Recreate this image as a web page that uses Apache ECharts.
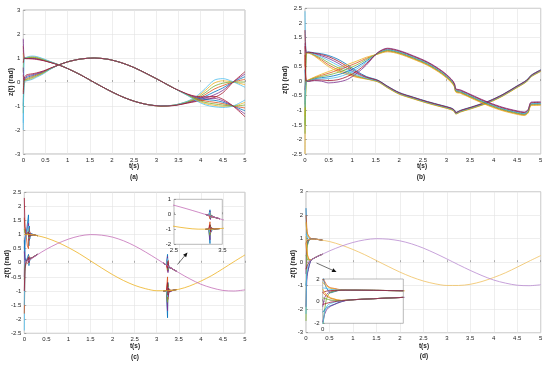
<!DOCTYPE html>
<html><head><meta charset="utf-8">
<script src="https://cdn.jsdelivr.net/npm/echarts@6/dist/echarts.min.js"></script>
<style>html,body{margin:0;padding:0;background:#fff}#c{width:550px;height:367px}</style>
</head><body><div id="c"></div>
<script>
// ---------- Panel (a) ----------
const tA = [0, 0.02, 0.06, 0.12, 0.2, 0.3, 0.45, 0.6, 0.8, 1.0, 1.3, 1.6, 1.9, 2.2, 2.5, 2.8, 3.1, 3.4, 3.7, 3.9, 4.1, 4.3, 4.5, 4.73, 5.0];
const aCos = [
  [1.0, 1.0, 0.99, 0.99, 0.99, 0.97, 0.91, 0.83, 0.71, 0.56, 0.29, -0.02, -0.32, -0.59, -0.80, -0.94, -1.0, -0.97, -0.85, -0.75, -0.60, -0.42, -0.25, 0.0, 0.22],
  [1.5, 1.0, 1.0, 1.0, 1.01, 0.99, 0.92, 0.83, 0.71, 0.56, 0.29, -0.02, -0.32, -0.59, -0.80, -0.94, -1.0, -0.97, -0.84, -0.72, -0.53, -0.30, -0.15, 0.0, 0.11],
  [1.2, 1.0, 1.01, 1.04, 1.05, 1.03, 0.95, 0.85, 0.72, 0.56, 0.29, -0.02, -0.32, -0.59, -0.80, -0.94, -1.0, -0.96, -0.81, -0.64, -0.36, -0.05, 0.05, 0.0, -0.11],
  [1.8, 1.0, 0.98, 0.98, 0.98, 0.96, 0.90, 0.82, 0.71, 0.56, 0.29, -0.02, -0.32, -0.59, -0.80, -0.94, -1.0, -0.98, -0.87, -0.78, -0.67, -0.54, -0.35, 0.0, 0.33],
  [0.4, 1.0, 1.0, 1.02, 1.03, 1.01, 0.93, 0.84, 0.72, 0.56, 0.29, -0.02, -0.32, -0.59, -0.80, -0.94, -1.0, -0.97, -0.83, -0.68, -0.45, -0.18, -0.05, 0.0, 0.0],
  [-2.0, 0.98, 1.02, 1.06, 1.08, 1.06, 0.97, 0.86, 0.72, 0.56, 0.29, -0.02, -0.32, -0.59, -0.80, -0.94, -0.99, -0.96, -0.80, -0.60, -0.28, 0.07, 0.14, 0.01, -0.22],
  [0.8, 0.99, 0.97, 0.97, 0.96, 0.94, 0.89, 0.82, 0.71, 0.56, 0.29, -0.02, -0.32, -0.59, -0.80, -0.94, -1.0, -0.98, -0.88, -0.81, -0.74, -0.65, -0.45, -0.01, 0.43]
];
const aSin = [
  [-1.0, 0.08, 0.17, 0.22, 0.26, 0.32, 0.42, 0.55, 0.71, 0.84, 0.96, 1.0, 0.95, 0.81, 0.60, 0.33, 0.04, -0.26, -0.52, -0.66, -0.73, -0.76, -0.84, -1.0, -1.20],
  [0.3, 0.06, 0.12, 0.17, 0.22, 0.29, 0.40, 0.55, 0.71, 0.84, 0.96, 1.0, 0.95, 0.81, 0.60, 0.33, 0.04, -0.26, -0.53, -0.69, -0.79, -0.84, -0.90, -1.0, -1.08],
  [-0.4, 0.02, 0.06, 0.09, 0.14, 0.23, 0.36, 0.53, 0.71, 0.84, 0.96, 1.0, 0.95, 0.81, 0.60, 0.33, 0.04, -0.26, -0.55, -0.75, -0.90, -0.97, -1.01, -1.0, -0.85],
  [0.6, 0.1, 0.22, 0.27, 0.30, 0.35, 0.44, 0.56, 0.71, 0.84, 0.96, 1.0, 0.95, 0.81, 0.60, 0.33, 0.04, -0.26, -0.51, -0.63, -0.67, -0.68, -0.78, -1.0, -1.33],
  [-1.3, 0.04, 0.09, 0.13, 0.18, 0.26, 0.38, 0.54, 0.71, 0.84, 0.96, 1.0, 0.95, 0.81, 0.60, 0.33, 0.04, -0.26, -0.54, -0.72, -0.85, -0.91, -0.96, -1.0, -0.96],
  [-1.7, 0.01, 0.04, 0.07, 0.11, 0.20, 0.34, 0.52, 0.71, 0.84, 0.96, 1.0, 0.95, 0.81, 0.60, 0.33, 0.04, -0.26, -0.56, -0.78, -0.95, -1.03, -1.06, -1.0, -0.75],
  [-0.5, 0.15, 0.28, 0.32, 0.34, 0.38, 0.46, 0.57, 0.71, 0.84, 0.96, 1.0, 0.95, 0.81, 0.60, 0.33, 0.04, -0.26, -0.50, -0.60, -0.62, -0.60, -0.72, -1.0, -1.45]
];
// ---------- Panel (b) ----------
const tB = [0, 0.03, 0.08, 0.2, 0.35, 0.5, 0.7, 0.9, 1.1, 1.3, 1.55, 1.75, 2.0, 2.3, 2.6, 2.9, 3.1, 3.17, 3.2, 3.3, 3.6, 3.9, 4.2, 4.5, 4.65, 4.73, 4.8, 5.0];
const bDown = [
  [-0.8, 0.98, 1.0, 0.97, 0.94, 0.88, 0.75, 0.56, 0.34, 0.16, 0.03, -0.17, -0.39, -0.55, -0.70, -0.83, -0.92, -0.99, -1.07, -1.0, -0.85, -0.68, -0.45, -0.16, -0.02, 0.08, 0.21, 0.39],
  [0.5, 0.97, 0.97, 0.88, 0.73, 0.56, 0.39, 0.26, 0.15, 0.08, -0.02, -0.22, -0.44, -0.60, -0.75, -0.88, -0.97, -1.04, -1.12, -1.05, -0.90, -0.73, -0.50, -0.21, -0.07, 0.03, 0.16, 0.34],
  [-2.5, 0.97, 0.96, 0.86, 0.68, 0.50, 0.33, 0.22, 0.13, 0.07, -0.03, -0.23, -0.45, -0.61, -0.76, -0.89, -0.98, -1.05, -1.13, -1.06, -0.91, -0.74, -0.51, -0.22, -0.08, 0.02, 0.15, 0.33],
  [1.3, 0.98, 0.99, 0.94, 0.87, 0.78, 0.62, 0.43, 0.26, 0.12, 0.01, -0.19, -0.41, -0.57, -0.72, -0.85, -0.94, -1.01, -1.09, -1.02, -0.87, -0.70, -0.47, -0.18, -0.04, 0.06, 0.19, 0.37],
  [-1.8, 0.98, 0.98, 0.90, 0.78, 0.63, 0.46, 0.31, 0.18, 0.09, -0.01, -0.21, -0.43, -0.59, -0.74, -0.87, -0.96, -1.03, -1.11, -1.04, -0.89, -0.72, -0.49, -0.20, -0.06, 0.04, 0.17, 0.35],
  [2.4, 0.98, 0.98, 0.92, 0.83, 0.71, 0.54, 0.37, 0.22, 0.10, 0.0, -0.2, -0.42, -0.58, -0.73, -0.86, -0.95, -1.02, -1.1, -1.03, -0.88, -0.71, -0.48, -0.19, -0.05, 0.05, 0.18, 0.36],
  [1.75, 0.98, 0.99, 0.96, 0.91, 0.84, 0.69, 0.50, 0.30, 0.14, 0.02, -0.18, -0.40, -0.56, -0.71, -0.84, -0.93, -1.0, -1.08, -1.01, -0.86, -0.69, -0.46, -0.17, -0.03, 0.07, 0.20, 0.38]
];
const bUp = [
  [0.4, 0.0, 0.02, 0.08, 0.12, 0.15, 0.22, 0.33, 0.49, 0.69, 0.96, 1.07, 0.99, 0.81, 0.60, 0.30, 0.02, -0.14, -0.32, -0.36, -0.58, -0.79, -0.96, -1.08, -1.12, -1.04, -0.78, -0.77],
  [0.9, 0.0, 0.04, 0.12, 0.20, 0.27, 0.38, 0.50, 0.63, 0.78, 0.94, 1.03, 0.95, 0.77, 0.56, 0.26, -0.02, -0.18, -0.36, -0.40, -0.62, -0.83, -1.0, -1.12, -1.16, -1.08, -0.82, -0.81],
  [-1.2, 0.0, 0.05, 0.14, 0.24, 0.33, 0.45, 0.57, 0.69, 0.82, 0.93, 1.01, 0.93, 0.75, 0.54, 0.24, -0.04, -0.20, -0.38, -0.42, -0.64, -0.85, -1.02, -1.14, -1.18, -1.10, -0.84, -0.83],
  [-0.3, 0.0, -0.01, 0.02, 0.0, -0.06, -0.03, 0.06, 0.27, 0.55, 0.99, 1.13, 1.05, 0.87, 0.66, 0.36, 0.08, -0.08, -0.26, -0.30, -0.52, -0.73, -0.90, -1.02, -1.06, -0.98, -0.72, -0.71],
  [-1.5, 0.0, 0.03, 0.10, 0.16, 0.21, 0.30, 0.42, 0.56, 0.74, 0.95, 1.05, 0.97, 0.79, 0.58, 0.28, 0.0, -0.16, -0.34, -0.38, -0.60, -0.81, -0.98, -1.10, -1.14, -1.06, -0.80, -0.79],
  [-0.9, 0.0, 0.01, 0.06, 0.08, 0.09, 0.14, 0.25, 0.42, 0.65, 0.97, 1.09, 1.01, 0.83, 0.62, 0.32, 0.04, -0.12, -0.30, -0.34, -0.56, -0.77, -0.94, -1.06, -1.10, -1.02, -0.76, -0.75],
  [1.2, 0.0, 0.0, 0.04, 0.04, 0.02, 0.05, 0.16, 0.34, 0.60, 0.98, 1.11, 1.03, 0.85, 0.64, 0.34, 0.06, -0.10, -0.28, -0.32, -0.54, -0.75, -0.92, -1.04, -1.08, -1.0, -0.74, -0.73]
];
// ---------- Panel (c) ----------
const tC = [0, 0.05, 0.15, 0.3, 0.5, 0.75, 1.0, 1.25, 1.5, 1.75, 2.0, 2.25, 2.5, 2.75, 3.0, 3.25, 3.5, 3.75, 4.0, 4.25, 4.5, 4.75, 5.0];
const cCosMain = [1.0, 1.0, 1.0, 0.96, 0.88, 0.73, 0.54, 0.32, 0.07, -0.18, -0.42, -0.63, -0.80, -0.92, -0.99, -0.99, -0.94, -0.82, -0.65, -0.45, -0.21, 0.04, 0.28];
const cSinMain = [0.0, 0.04, 0.13, 0.29, 0.48, 0.68, 0.84, 0.95, 1.0, 0.98, 0.91, 0.78, 0.60, 0.38, 0.14, -0.11, -0.35, -0.57, -0.76, -0.89, -0.98, -1.0, -0.96];
const tC1 = [0, 0.015, 0.04, 0.07, 0.095, 0.105, 0.115, 0.125, 0.14, 0.17, 0.22, 0.3];
const cCosW1 = [
  [0.5, 0.9, 1.0, 1.0, 1.7, 0.6, 1.3, 0.85, 1.05, 1.0, 0.99, 0.96],
  [1.6, 1.1, 1.0, 0.6, 0.5, 1.25, 0.8, 1.1, 0.97, 1.0, 0.99, 0.96],
  [-0.5, 0.8, 1.0, 1.0, 1.4, 0.8, 1.15, 0.92, 1.03, 1.0, 0.99, 0.96],
  [1.2, 1.05, 1.0, 1.0, 1.2, 0.85, 1.1, 0.95, 1.02, 1.0, 0.99, 0.96],
  [-2.4, 0.6, 1.0, 1.0, 1.3, 0.88, 1.08, 0.96, 1.01, 1.0, 0.99, 0.96],
  [2.3, 1.3, 1.0, 1.0, 1.1, 0.9, 1.05, 0.97, 1.02, 1.0, 0.99, 0.96]
];
const cSinW1 = [
  [0.8, 0.2, 0.04, 0.07, 0.3, -0.1, 0.2, 0.08, 0.15, 0.17, 0.22, 0.3],
  [-1.8, -0.3, 0.04, 0.07, -0.05, 0.25, 0.05, 0.15, 0.13, 0.17, 0.22, 0.3],
  [0.4, 0.1, 0.04, 0.07, 0.18, 0.02, 0.15, 0.11, 0.14, 0.17, 0.22, 0.3],
  [-0.6, -0.1, 0.04, 0.07, 0.15, 0.05, 0.13, 0.12, 0.14, 0.17, 0.22, 0.3],
  [-1.5, -0.2, 0.04, 0.07, 0.22, -0.05, 0.17, 0.1, 0.14, 0.17, 0.22, 0.3],
  [-1.0, -0.2, 0.04, 0.07, 0.2, 0.0, 0.16, 0.1, 0.14, 0.17, 0.22, 0.3]
];
const tC2 = [3.15, 3.22, 3.245, 3.255, 3.265, 3.28, 3.3, 3.33, 3.38, 3.45];
const cCosW2 = [
  [-1.0, -0.99, -1.95, -0.7, -1.15, -0.95, -1.02, -0.99, -0.97, -0.95],
  [-1.0, -0.99, -0.5, -1.3, -0.85, -1.05, -0.97, -0.99, -0.97, -0.95],
  [-1.0, -0.99, -1.7, -0.8, -1.2, -0.92, -1.03, -0.99, -0.97, -0.95],
  [-1.0, -0.99, -1.4, -0.75, -1.1, -0.95, -1.01, -0.99, -0.97, -0.95],
  [-1.0, -0.99, -1.2, -0.85, -1.08, -0.97, -1.0, -0.99, -0.97, -0.95],
  [-1.0, -0.99, -0.7, -1.15, -0.9, -1.02, -0.98, -0.99, -0.97, -0.95]
];
const cSinW2 = [
  [-0.01, -0.08, 0.3, -0.3, -0.05, -0.17, -0.15, -0.19, -0.24, -0.30],
  [-0.01, -0.08, -0.3, 0.1, -0.2, -0.12, -0.17, -0.19, -0.24, -0.30],
  [-0.01, -0.08, 0.22, -0.35, -0.06, -0.18, -0.15, -0.19, -0.24, -0.30],
  [-0.01, -0.08, 0.1, -0.25, -0.08, -0.15, -0.16, -0.19, -0.24, -0.30],
  [-0.01, -0.08, 0.15, -0.2, -0.1, -0.15, -0.16, -0.19, -0.24, -0.30],
  [-0.01, -0.08, -0.2, 0.05, -0.15, -0.13, -0.16, -0.19, -0.24, -0.30]
];
// ---------- Panel (d) ----------
const tD = [0.03, 0.06, 0.1, 0.15, 0.2, 0.3, 0.5, 0.75, 1.0, 1.25, 1.5, 1.75, 2.0, 2.25, 2.5, 2.75, 3.0, 3.25, 3.5, 3.75, 4.0, 4.25, 4.5, 4.75, 5.0];
const dCosMain = [0.95, 0.97, 0.98, 0.98, 0.98, 0.95, 0.88, 0.73, 0.54, 0.32, 0.07, -0.18, -0.42, -0.63, -0.80, -0.92, -0.99, -0.99, -0.94, -0.82, -0.65, -0.45, -0.21, 0.04, 0.28];
const dSinMain = [0.05, 0.03, 0.08, 0.14, 0.2, 0.29, 0.48, 0.68, 0.84, 0.95, 1.0, 0.98, 0.91, 0.78, 0.60, 0.38, 0.14, -0.11, -0.35, -0.57, -0.76, -0.89, -0.98, -1.0, -0.96];
const tD1 = [0, 0.008, 0.016, 0.025, 0.035, 0.05, 0.065, 0.08, 0.1, 0.12, 0.14, 0.17, 0.22, 0.28, 0.35];
const dCosT = [
  [2.3, 1.6, 1.2, 0.9, 0.75, 0.85, 0.95, 1.0, 0.99, 0.99, 0.99, 0.985, 0.975, 0.96, 0.94],
  [2.0, 1.8, 1.5, 1.3, 1.2, 1.15, 1.08, 1.02, 1.0, 0.99, 0.99, 0.985, 0.975, 0.96, 0.94],
  [1.7, 1.5, 1.35, 1.25, 1.15, 1.1, 1.05, 1.01, 1.0, 0.99, 0.99, 0.985, 0.975, 0.96, 0.94],
  [-0.5, 0.3, 0.6, 0.75, 0.85, 0.9, 0.95, 0.98, 0.99, 0.99, 0.99, 0.985, 0.975, 0.96, 0.94],
  [-2.5, -0.8, 0.2, 0.6, 0.8, 0.9, 0.96, 0.99, 0.99, 0.99, 0.99, 0.985, 0.975, 0.96, 0.94],
  [1.2, 1.2, 1.15, 1.1, 1.06, 1.03, 1.01, 1.0, 0.99, 0.99, 0.99, 0.985, 0.975, 0.96, 0.94],
  [0.8, 0.85, 0.9, 0.93, 0.95, 0.97, 0.98, 0.99, 0.99, 0.99, 0.99, 0.985, 0.975, 0.96, 0.94]
];
const dSinT = [
  [-1.0, -0.8, -0.6, -0.5, -0.4, -0.3, -0.15, -0.05, 0.06, 0.11, 0.14, 0.17, 0.22, 0.28, 0.34],
  [0.8, 0.6, 0.45, 0.35, 0.25, 0.18, 0.1, 0.06, 0.08, 0.11, 0.14, 0.17, 0.22, 0.28, 0.34],
  [1.1, 0.8, 0.6, 0.45, 0.3, 0.2, 0.12, 0.07, 0.08, 0.11, 0.14, 0.17, 0.22, 0.28, 0.34],
  [-1.9, -1.2, -0.8, -0.6, -0.45, -0.3, -0.18, -0.06, 0.05, 0.11, 0.14, 0.17, 0.22, 0.28, 0.34],
  [0.3, 0.25, 0.2, 0.15, 0.1, 0.07, 0.05, 0.05, 0.08, 0.11, 0.14, 0.17, 0.22, 0.28, 0.34],
  [-2.2, -1.0, -0.5, -0.3, -0.2, -0.1, -0.03, 0.02, 0.07, 0.11, 0.14, 0.17, 0.22, 0.28, 0.34],
  [-0.3, -0.25, -0.2, -0.15, -0.1, -0.05, 0.0, 0.03, 0.07, 0.11, 0.14, 0.17, 0.22, 0.28, 0.34]
];

// ---------- styling / build ----------
const COLORS = ['#0072BD', '#D95319', '#EDB120', '#7E2F8E', '#77AC30', '#4DBEEE', '#A2142F'];
const SIX = [0, 1, 3, 4, 5, 6];
const FONT = '"Liberation Sans", Arial, Helvetica, sans-serif';
const series = [];
function line(gi, t, y, color, opt) {
  series.push(Object.assign({
    type: 'line', xAxisIndex: gi, yAxisIndex: gi,
    data: t.map((v, i) => [v, y[i]]),
    symbol: 'none', showSymbol: false, smooth: 0.3, silent: true, animation: false,
    lineStyle: { width: 0.8, color: color }
  }, opt || {}));
}
aCos.forEach((y, i) => line(0, tA, y, COLORS[i]));
aSin.forEach((y, i) => line(0, tA, y, COLORS[i]));
bDown.forEach((y, i) => line(1, tB, y, COLORS[i]));
bUp.forEach((y, i) => line(1, tB, y, COLORS[i]));

function panelC(gi, z) {
  const o = { smooth: false, z: z };
  cCosW1.forEach((y, i) => line(gi, tC1, y, COLORS[SIX[i]], o));
  cSinW1.forEach((y, i) => line(gi, tC1, y, COLORS[SIX[i]], o));
  cCosW2.forEach((y, i) => line(gi, tC2, y, COLORS[SIX[i]], o));
  cSinW2.forEach((y, i) => line(gi, tC2, y, COLORS[SIX[i]], o));
  line(gi, tC, cCosMain, '#EDB120', { z: z });
  line(gi, tC, cSinMain, '#C46FB8', { z: z });
}
panelC(2, 2);
panelC(4, 12);

function dTrans(gi, z) {
  const o = { smooth: false, z: z };
  dCosT.forEach((y, i) => line(gi, tD1, y, COLORS[i], o));
  dSinT.forEach((y, i) => line(gi, tD1, y, COLORS[i], o));
}
dTrans(3, 2);
line(3, tD, dCosMain, '#F0C060');
line(3, tD, dSinMain, '#B98AD0');
line(5, tD, dCosMain, '#F0C060', { z: 12 });
line(5, tD, dSinMain, '#B98AD0', { z: 12 });
dTrans(5, 12);

function grid(l, t, w, h, z) {
  return { left: l, top: t, width: w, height: h, show: true, borderColor: '#8a8a8a', borderWidth: 0.6,
           backgroundColor: '#fff', containLabel: false, z: z || 0 };
}
function axis(gi, min, max, interval, split, z, extra) {
  return Object.assign({
    type: 'value', gridIndex: gi, min: min, max: max, interval: interval, z: z || 0,
    axisLine: { show: false },
    axisTick: { show: true, inside: true, length: 2, lineStyle: { color: '#666', width: 0.5 } },
    splitLine: { show: split, lineStyle: { color: '#e3e3e3', width: 0.6 } },
    axisLabel: { fontSize: 6, color: '#262626', margin: 3, fontFamily: FONT }
  }, extra || {});
}
const grids = [
  grid(23.3, 10, 221.7, 144),
  grid(305, 8.3, 235.7, 145.7),
  grid(24.3, 192.3, 220.7, 141),
  grid(306, 191.7, 234.7, 141),
  grid(174, 199.3, 48.3, 45, 10),
  grid(322.7, 279, 80.6, 44.3, 10)
];
const xAxes = [
  axis(0, 0, 5, 0.5, true), axis(1, 0, 5, 0.5, true), axis(2, 0, 5, 0.5, true), axis(3, 0, 5, 0.5, true),
  axis(4, 2.5, 3.5, 1, false, 11),
  axis(5, 0, 0.35, 0.5, false, 11, { axisLabel: { fontSize: 6, color: '#262626', margin: 3, fontFamily: FONT, showMaxLabel: false } })
];
const yAxes = [
  axis(0, -3, 3, 1, true), axis(1, -2.5, 2.5, 0.5, true), axis(2, -2.5, 2.5, 0.5, true), axis(3, -3, 3, 1, true),
  axis(4, -2, 1, 1, false, 11), axis(5, -2, 2, 2, false, 11)
];

function txt(x, y, s, size, rot) {
  return { type: 'text', x: x, y: y, rotation: rot || 0, z: 100,
    style: { text: s, fontSize: size, fontWeight: 'bold', fontFamily: FONT, fill: '#262626', align: 'center', verticalAlign: 'middle' } };
}
function arrow(x1, y1, x2, y2) {
  const a = Math.atan2(y2 - y1, x2 - x1), L = 4.5, W = 2;
  const bx = x2 - L * Math.cos(a), by = y2 - L * Math.sin(a);
  return [
    { type: 'line', z: 100, shape: { x1: x1, y1: y1, x2: bx, y2: by }, style: { stroke: '#333', lineWidth: 0.7 } },
    { type: 'polygon', z: 100, shape: { points: [[x2, y2], [bx - W * Math.sin(a), by + W * Math.cos(a)], [bx + W * Math.sin(a), by - W * Math.cos(a)]] }, style: { fill: '#111' } }
  ];
}
const graphics = [
  txt(134, 166, 't(s)', 6.5), txt(422, 166, 't(s)', 6.5), txt(135, 346, 't(s)', 6.5), txt(424, 346.5, 't(s)', 6.5),
  txt(134, 177.5, '(a)', 6.5), txt(421, 177.5, '(b)', 6.5), txt(135, 357.5, '(c)', 6.5), txt(424, 356, '(d)', 6.5),
  txt(11, 82, 'z(t) (rad)', 7, Math.PI / 2), txt(285, 80, 'z(t) (rad)', 7, Math.PI / 2),
  txt(7, 264, 'z(t) (rad)', 7, Math.PI / 2), txt(293, 264, 'z(t) (rad)', 7, Math.PI / 2)
].concat(arrow(177.5, 264.5, 187.5, 252.5), arrow(316.5, 263, 336.5, 272));

const chart = echarts.init(document.getElementById('c'), null, { renderer: 'canvas' });
chart.setOption({
  animation: false,
  backgroundColor: '#fff',
  grid: grids, xAxis: xAxes, yAxis: yAxes, series: series, graphic: graphics
});
</script></body></html>
